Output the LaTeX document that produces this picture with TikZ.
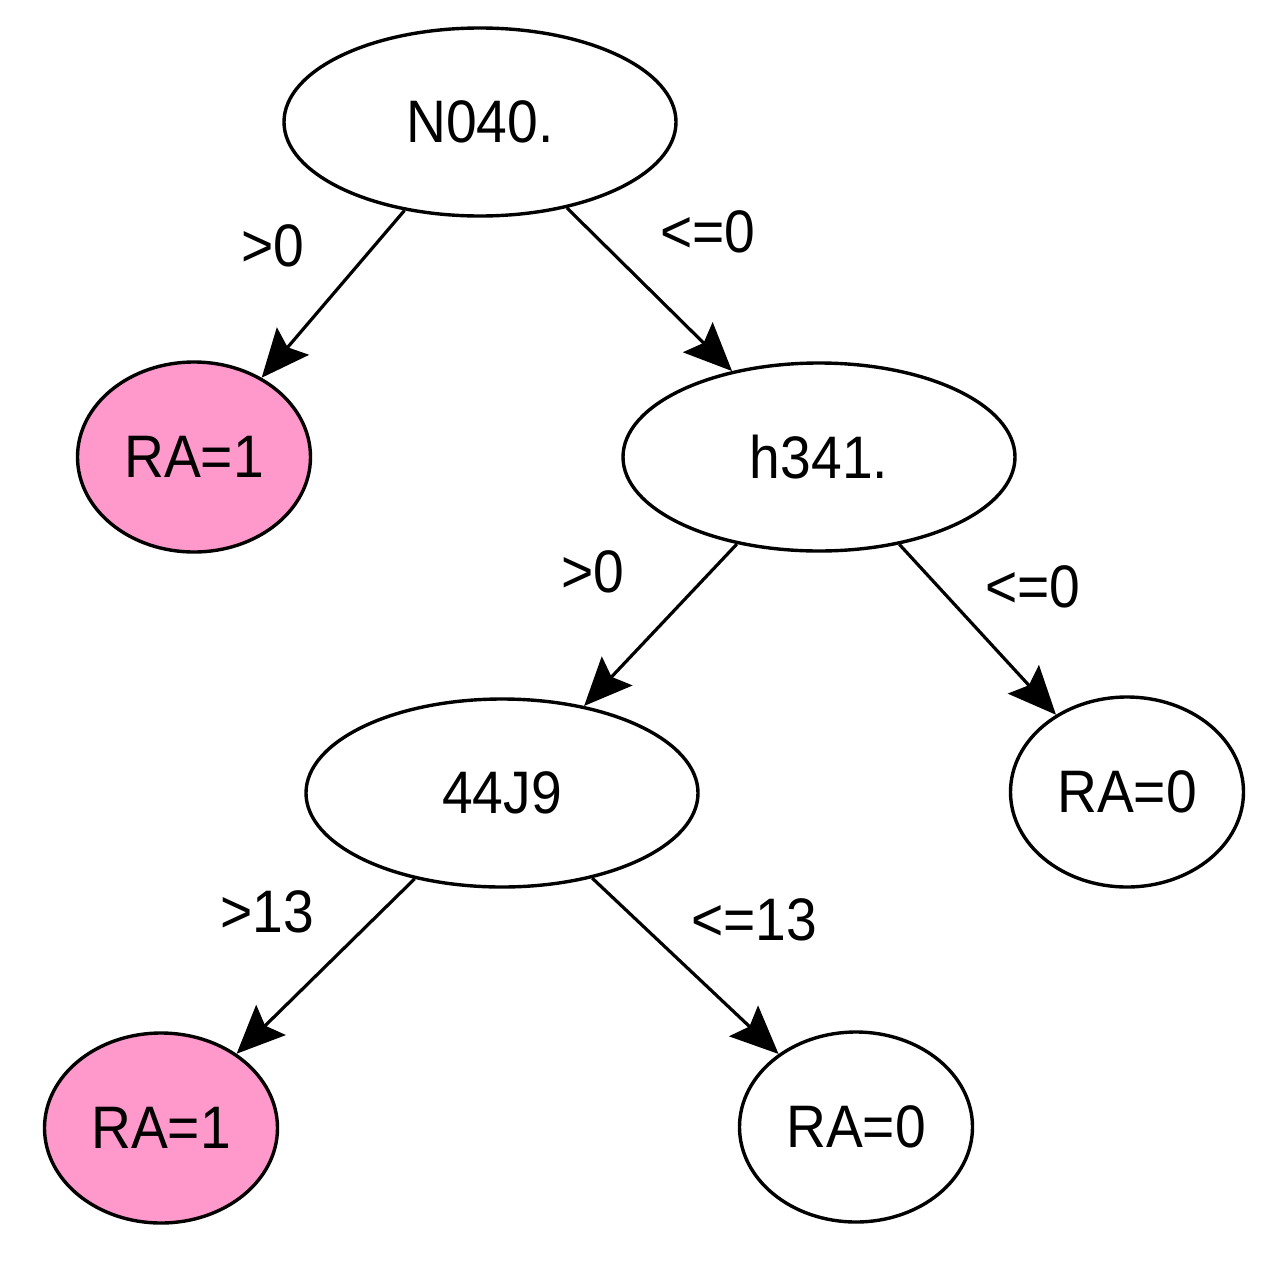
\documentclass[tikz,border=0pt]{standalone}
\usepackage{fontspec}
\setmainfont[FakeStretch=0.92]{Liberation Sans}
\usetikzlibrary{shapes.geometric,arrows.meta}
\definecolor{leafpink}{RGB}{255,153,204}
\begin{document}
\begin{tikzpicture}[x=0.5pt,y=-0.5pt,
  every node/.style={font=\fontsize{30}{36}\selectfont},
  inner/.style={ellipse,draw,line width=1.7pt,minimum width=196pt,minimum height=94pt,inner sep=0pt},
  leaf/.style={ellipse,draw,line width=1.7pt,minimum width=116.5pt,minimum height=95pt,inner sep=0pt},
  pinkleaf/.style={leaf,fill=leafpink},
  edgelbl/.style={inner sep=0pt},
  conn/.style={line width=1.6pt,-{Stealth[length=24pt,width=21pt,inset=4pt]}}]
\useasboundingbox (0,0) rectangle (1279,1269);
\node[inner] (n040) at (480,122) {N040.};
\node[pinkleaf] (ra1a) at (194,457) {RA=1};
\node[inner] (h341) at (819,457) {h341.};
\node[inner] (j449) at (502,793) {44J9};
\node[leaf] (ra0a) at (1127,792) {RA=0};
\node[pinkleaf] (ra1b) at (161,1128) {RA=1};
\node[leaf] (ra0b) at (856,1127) {RA=0};
\draw[conn] (n040) -- (ra1a);
\draw[conn] (n040) -- (h341);
\draw[conn] (h341) -- (j449);
\draw[conn] (h341) -- (ra0a);
\draw[conn] (j449) -- (ra1b);
\draw[conn] (j449) -- (ra0b);
\node[edgelbl] (l1) at (273,246) {>0};
\node[edgelbl] (l2) at (708,232) {<=0};
\node[edgelbl] (l3) at (593,572) {>0};
\node[edgelbl] (l4) at (1033,587) {<=0};
\node[edgelbl] (l5) at (267,912) {>13};
\node[edgelbl] (l6) at (754,920) {<=13};
\end{tikzpicture}
\end{document}
